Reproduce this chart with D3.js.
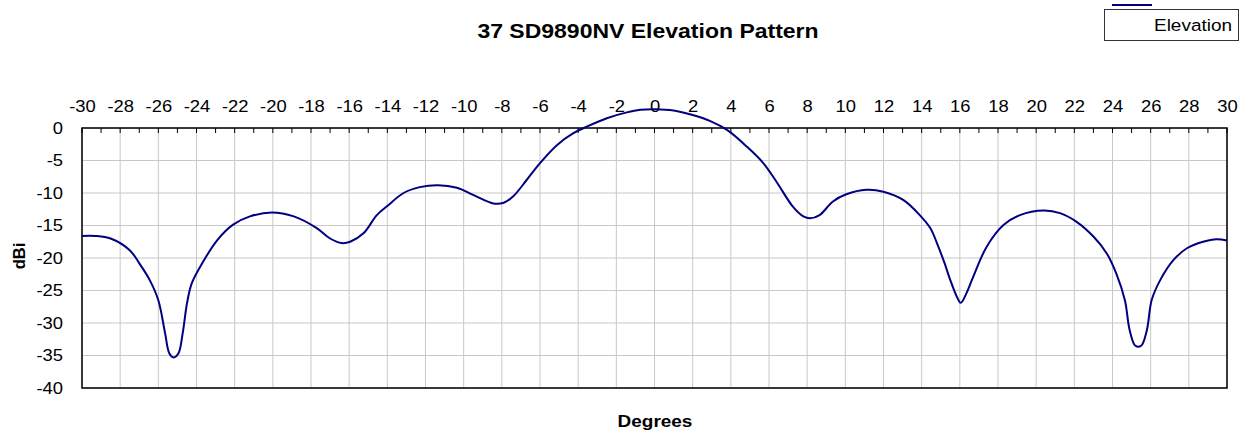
<!DOCTYPE html>
<html>
<head>
<meta charset="utf-8">
<script src="https://cdnjs.cloudflare.com/ajax/libs/d3/7.8.5/d3.min.js"></script>
<style>
body { margin: 0; background: #fff; }
text { font-family: "Liberation Sans", Arial, sans-serif; fill: #000; }
</style>
</head>
<body>
<div id="chart"></div>
<script>
// data
var degrees = [-30, -29.3, -28.5, -27.5, -27.0, -26.45, -26.0, -25.65, -25.42, -25.2, -24.95, -24.72, -24.5, -24.25,
  -23.7, -22.9, -22.1, -21.2, -20.05, -18.9, -17.7, -17.0, -16.4, -15.95, -15.25, -14.55, -14.0, -13.15, -12.3,
  -11.35, -10.35, -9.5, -8.45, -7.9, -7.4, -6.7, -6.0, -5.1, -4.25, -3.55, -2.5, -1.45, -0.75, 0.05, 1.0, 2.0,
  2.9, 3.8, 4.85, 5.7, 6.4, 7.25, 7.8, 8.15, 8.65, 9.35, 10.05, 11.1, 12.0, 13.05, 13.9, 14.45, 14.8, 15.2, 15.5,
  15.85, 16.05, 16.35, 16.7, 17.4, 18.3, 19.15, 20.4, 21.25, 22.1, 23.0, 23.7, 24.2, 24.65, 24.9, 25.2, 25.5,
  25.8, 26.05, 26.5, 27.2, 27.9, 28.75, 29.45, 30];
var elevation = [-16.6, -16.6, -17.0, -18.8, -20.8, -23.4, -26.5, -31.5, -34.7, -35.3, -34.7, -31.5, -27.0, -23.9,
  -20.8, -17.2, -14.9, -13.6, -13.0, -13.6, -15.4, -17.0, -17.7, -17.5, -16.2, -13.4, -12.0, -10.0, -9.1,
  -8.8, -9.2, -10.3, -11.6, -11.5, -10.5, -8.0, -5.4, -2.6, -0.8, 0.2, 1.5, 2.4, 2.8, 2.9, 2.7, 2.0,
  1.1, -0.3, -2.9, -5.4, -8.3, -12.1, -13.6, -13.9, -13.4, -11.3, -10.2, -9.5, -9.8, -11.1, -13.4, -15.4, -17.7, -20.8, -23.4,
  -26.0, -26.9, -25.4, -22.9, -18.3, -14.9, -13.4, -12.7, -13.1, -14.4, -16.7, -19.3, -22.4, -26.5, -31.1, -33.5, -33.5,
  -31.1, -26.5, -23.4, -20.3, -18.5, -17.5, -17.1, -17.3];
var xTicks = d3.range(-30, 31, 2);
var xMinor = d3.range(-30, 31, 1);
var yTicks = [0, -5, -10, -15, -20, -25, -30, -35, -40];

var margin = {top: 128, right: 23, bottom: 48, left: 82},
width = 1250 - margin.left - margin.right,
height = 436 - margin.top - margin.bottom;

// text in the original is a bit wide, stretch it
var SX = 1.15;

var x = d3.scaleLinear().domain([-30, 30]).range([0, width]);
var y = d3.scaleLinear().domain([-40, 0]).range([height, 0]);

// plain hyphen for negatives, like the original
var fmt = function(d) { return String(d); };

var svg = d3.select("#chart").append("svg")
.attr("width", 1250)
.attr("height", 436);

var g = svg.append("g")
.attr("transform", "translate(" + margin.left + "," + margin.top + ")");

// grid
g.selectAll(".vgrid")
.data(xTicks)
.enter().append("line")
.attr("x1", function(d) { return x(d); })
.attr("x2", function(d) { return x(d); })
.attr("y1", 0)
.attr("y2", height)
.attr("stroke", "#c8c8c8")
.attr("stroke-width", 1);

g.selectAll(".hgrid")
.data(yTicks)
.enter().append("line")
.attr("x1", 0)
.attr("x2", width)
.attr("y1", function(d) { return y(d); })
.attr("y2", function(d) { return y(d); })
.attr("stroke", "#c8c8c8")
.attr("stroke-width", 1);

// minor ticks on top
g.selectAll(".minor")
.data(xMinor)
.enter().append("line")
.attr("x1", function(d) { return x(d); })
.attr("x2", function(d) { return x(d); })
.attr("y1", 0)
.attr("y2", 5)
.attr("stroke", "#000")
.attr("stroke-width", 1);

// frame
g.append("rect")
.attr("x", 0)
.attr("y", 0)
.attr("width", width)
.attr("height", height)
.attr("fill", "none")
.attr("stroke", "#000")
.attr("stroke-width", 1.5);

// x axis on top
var xAxis = d3.axisTop(x).tickValues(xTicks).tickFormat(fmt).tickSize(0).tickPadding(0);
g.append("g")
.attr("class", "x axis")
.call(xAxis)
.call(function(s) { s.select(".domain").remove(); })
.selectAll("text")
.attr("y", -16.5)
.attr("dy", 0)
.attr("transform", "scale(" + SX + ",1)")
.style("font-size", "16px")
.style("fill", "#000");

// y axis
var yAxis = d3.axisLeft(y).tickValues(yTicks).tickFormat(fmt).tickSize(0).tickPadding(0);
g.append("g")
.attr("class", "y axis")
.call(yAxis)
.call(function(s) { s.select(".domain").remove(); })
.selectAll("text")
.attr("x", -19 / SX)
.attr("dy", "0.34em")
.attr("transform", "scale(" + SX + ",1)")
.style("font-size", "16px")
.style("fill", "#000");

// the curve
var line = d3.line()
.x(function(d, i) { return x(degrees[i]); })
.y(function(d) { return y(d); })
.curve(d3.curveCatmullRom.alpha(0.5));

g.append("path")
.datum(elevation)
.attr("fill", "none")
.attr("stroke", "#000080")
.attr("stroke-width", 2)
.attr("d", line);

// title
svg.append("text")
.attr("transform", "translate(648,38) scale(" + SX + ",1)")
.attr("text-anchor", "middle")
.style("font-size", "20px")
.style("font-weight", "bold")
.text("37 SD9890NV Elevation Pattern");

// axis titles
svg.append("text")
.attr("transform", "translate(655,427) scale(" + SX + ",1)")
.attr("text-anchor", "middle")
.style("font-size", "16.5px")
.style("font-weight", "bold")
.text("Degrees");

svg.append("text")
.attr("transform", "translate(25,256) rotate(-90)")
.attr("text-anchor", "middle")
.style("font-size", "16.5px")
.style("font-weight", "bold")
.text("dBi");

// legend
svg.append("rect")
.attr("x", 1104.5)
.attr("y", 9.5)
.attr("width", 134)
.attr("height", 31)
.attr("fill", "#fff")
.attr("stroke", "#333")
.attr("stroke-width", 1);

svg.append("line")
.attr("x1", 1112)
.attr("x2", 1152)
.attr("y1", 5)
.attr("y2", 5)
.attr("stroke", "#000080")
.attr("stroke-width", 2);

svg.append("text")
.attr("transform", "translate(1154,31) scale(" + SX + ",1)")
.style("font-size", "16.5px")
.text("Elevation");
</script>
</body>
</html>
